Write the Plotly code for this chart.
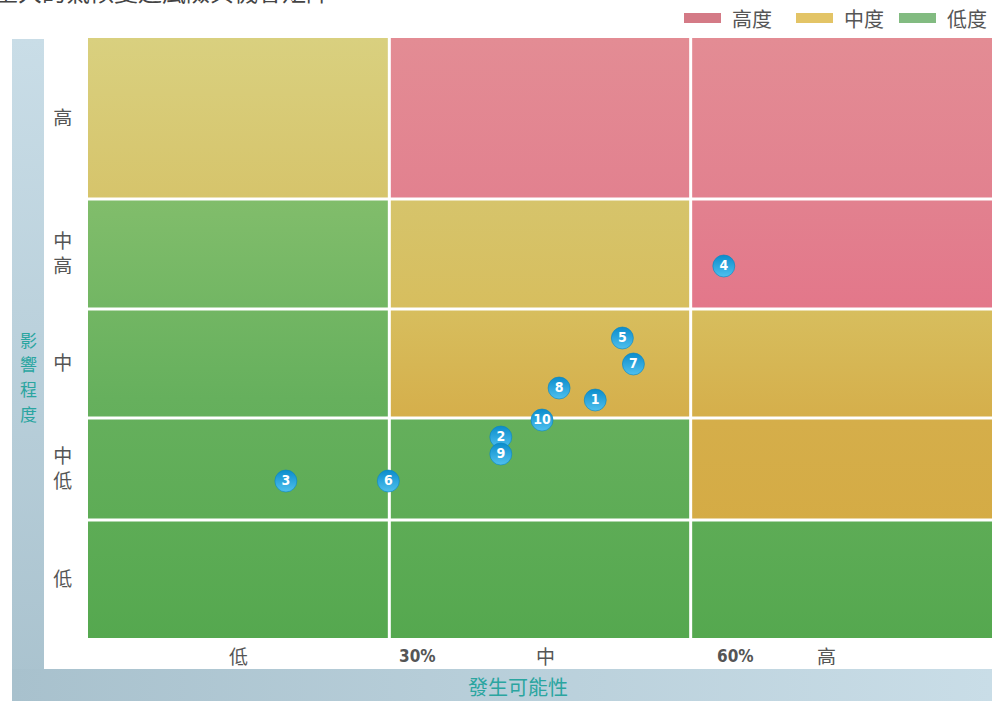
import plotly.graph_objects as go

# ---- data -------------------------------------------------------------
# likelihood bands (percent) and impact bands (score units, bottom -> top)
likelihood_edges = [0, 30, 60, 90]
impact_edges = [0, 118, 220, 329, 439, 600]
impact_labels = ["低", "中<br>低", "中", "中<br>高", "高"]
likelihood_labels = ["低", "中", "高"]
likelihood_label_x = [15, 45.5, 73.5]
threshold_labels = ["30%", "60%"]
threshold_x = [32.8, 64.5]
impact_title = "影響程度"
likelihood_title = "發生可能性"

# risk level per cell, rows bottom -> top, columns low -> high likelihood
risk_grid = [
    ["低度", "低度", "低度"],
    ["低度", "低度", "中度"],
    ["低度", "中度", "中度"],
    ["低度", "中度", "高度"],
    ["中度", "高度", "高度"],
]

# numbered risk items: likelihood (%) and impact score
item_ids = ["1", "2", "3", "4", "5", "6", "7", "8", "9", "10"]
item_likelihood = [50.5, 41.1, 19.7, 63.3, 53.2, 29.9, 54.3, 46.9, 41.1, 45.2]
item_impact = [238, 201, 157, 372, 300, 157, 274, 250, 184, 218]

levels = ["高度", "中度", "低度"]
legend_colors = {"高度": "#d47a86", "中度": "#e3c466", "低度": "#82bb81"}
level_scales = {
    "高度": [[0, "#e3748a"], [0.55, "#e3778a"], [0.73, "#e2818f"], [1, "#e38c94"]],
    "中度": [[0, "#d4a83f"], [0.36, "#d5ae4a"], [0.55, "#d7be5e"], [0.73, "#d6c46b"], [1, "#d9d07f"]],
    "低度": [[0, "#55a84f"], [0.4, "#66b05d"], [0.73, "#81bd6b"], [1, "#88c070"]],
}

W, H = 992, 701
CJK = "Noto Sans CJK TC, Noto Sans CJK SC, sans-serif"
COND = "DejaVu Sans Condensed, DejaVu Sans"
TEAL = "#2aa5a0"
GREY = "#555555"

fig = go.Figure()

# ---- matrix cells -----------------------------------------------------
y_lo, y_hi = impact_edges[0], impact_edges[-1]
for r in range(len(impact_edges) - 1):
    for c in range(len(likelihood_edges) - 1):
        x0, x1 = likelihood_edges[c], likelihood_edges[c + 1]
        y0, y1 = impact_edges[r], impact_edges[r + 1]
        lvl = risk_grid[r][c]
        fig.add_trace(go.Scatter(
            x=[x0, x1, x1, x0, x0], y=[y0, y0, y1, y1, y0],
            mode="lines", fill="toself", line=dict(width=0),
            fillgradient=dict(type="vertical", colorscale=level_scales[lvl],
                              start=y_lo, stop=y_hi),
            hoverinfo="skip", xaxis="x", yaxis="y",
        ))

# white separators between cells
gx, gy = [], []
for xv in likelihood_edges[1:-1]:
    gx += [xv, xv, None]
    gy += [y_lo, y_hi, None]
for yv in impact_edges[1:-1]:
    gx += [likelihood_edges[0], likelihood_edges[-1], None]
    gy += [yv, yv, None]
fig.add_trace(go.Scatter(x=gx, y=gy, mode="lines",
                         line=dict(color="white", width=3),
                         hoverinfo="skip", xaxis="x", yaxis="y"))

# numbered markers
fig.add_trace(go.Scatter(
    x=item_likelihood, y=item_impact, text=item_ids,
    mode="markers+text", textposition="middle center",
    marker=dict(size=22, color="#0b8ccc",
                gradient=dict(type="vertical", color="#4fc0ee"),
                line=dict(color="#0a84c0", width=0.6)),
    textfont=dict(family=COND, size=14, color="white", weight="bold"),
    hoverinfo="skip", xaxis="x", yaxis="y",
))

# ---- side / bottom bands (pixel-space overlay axes) --------------------
fig.add_trace(go.Scatter(
    x=[12, 44, 44, 12, 12], y=[39, 39, 701, 701, 39],
    mode="lines", fill="toself", line=dict(width=0),
    fillgradient=dict(type="vertical", colorscale=[[0, "#c9dde7"], [1, "#a9c2ce"]],
                      start=39, stop=701),
    hoverinfo="skip", xaxis="x2", yaxis="y2",
))
fig.add_trace(go.Scatter(
    x=[12, 992, 992, 12, 12], y=[669, 669, 701, 701, 669],
    mode="lines", fill="toself", line=dict(width=0),
    fillgradient=dict(type="horizontal", colorscale=[[0, "#a8c1cd"], [1, "#c9dde7"]],
                      start=12, stop=992),
    hoverinfo="skip", xaxis="x2", yaxis="y2",
))

shapes = []
annotations = []

# legend swatches
legend_x = [684, 796, 899]
for lvl, lx in zip(levels, legend_x):
    shapes.append(dict(type="rect", xref="x2", yref="y2", x0=lx, x1=lx + 37,
                       y0=13, y1=23, fillcolor=legend_colors[lvl], line=dict(width=0)))
    annotations.append(dict(xref="x2", yref="y2", x=lx + 46, y=18, text=lvl,
                            showarrow=False, xanchor="left", yanchor="middle",
                            font=dict(family=CJK, size=20, color=GREY)))

# clipped heading
annotations.append(dict(xref="x2", yref="y2", x=0, y=0, text="重大的氣候變遷風險與機會矩陣",
                        showarrow=False, xanchor="left", yanchor="middle",
                        xshift=-8, yshift=10,
                        font=dict(family=CJK, size=24, color="#444444")))

# vertical axis title, one glyph per annotation
for i, ch in enumerate(impact_title):
    annotations.append(dict(xref="x2", yref="y2", x=28, y=339 + 24.7 * i, text=ch,
                            showarrow=False, xanchor="center", yanchor="middle",
                            borderpad=0,
                            font=dict(family=CJK, size=17, color=TEAL)))
annotations.append(dict(xref="x2", yref="y2", x=518, y=686, text=likelihood_title,
                        showarrow=False, xanchor="center", yanchor="middle",
                        font=dict(family=CJK, size=20, color=TEAL)))

# likelihood labels under the matrix
for lab, xv in zip(likelihood_labels, likelihood_label_x):
    annotations.append(dict(xref="x", yref="paper", x=xv, y=(H - 655) / H, text=lab,
                            showarrow=False, xanchor="center", yanchor="middle",
                            font=dict(family=CJK, size=19, color=GREY)))
for lab, xv in zip(threshold_labels, threshold_x):
    annotations.append(dict(xref="x", yref="paper", x=xv, y=(H - 656) / H, text=lab,
                            showarrow=False, xanchor="center", yanchor="middle",
                            font=dict(family=COND, size=17, color=GREY, weight="bold")))

row_centers = [(impact_edges[i] + impact_edges[i + 1]) / 2 for i in range(len(impact_edges) - 1)]

fig.update_layout(
    width=W, height=H,
    margin=dict(l=0, r=0, t=0, b=0),
    paper_bgcolor="white", plot_bgcolor="rgba(0,0,0,0)",
    showlegend=False,
    xaxis=dict(domain=[88 / W, 1], range=[likelihood_edges[0], likelihood_edges[-1]],
               visible=False, fixedrange=True),
    yaxis=dict(domain=[(H - 638) / H, (H - 38) / H], range=[y_lo, y_hi],
               showgrid=False, zeroline=False, showline=False,
               tickvals=row_centers, ticktext=impact_labels,
               ticks="outside", ticklen=11, tickcolor="rgba(0,0,0,0)",
               tickfont=dict(family=CJK, size=19, color=GREY), fixedrange=True),
    xaxis2=dict(domain=[0, 1], range=[0, W], visible=False, anchor="y2", fixedrange=True),
    yaxis2=dict(domain=[0, 1], range=[H, 0], visible=False, anchor="x2", fixedrange=True),
    shapes=shapes,
    annotations=annotations,
)

fig.write_html("out.html")
